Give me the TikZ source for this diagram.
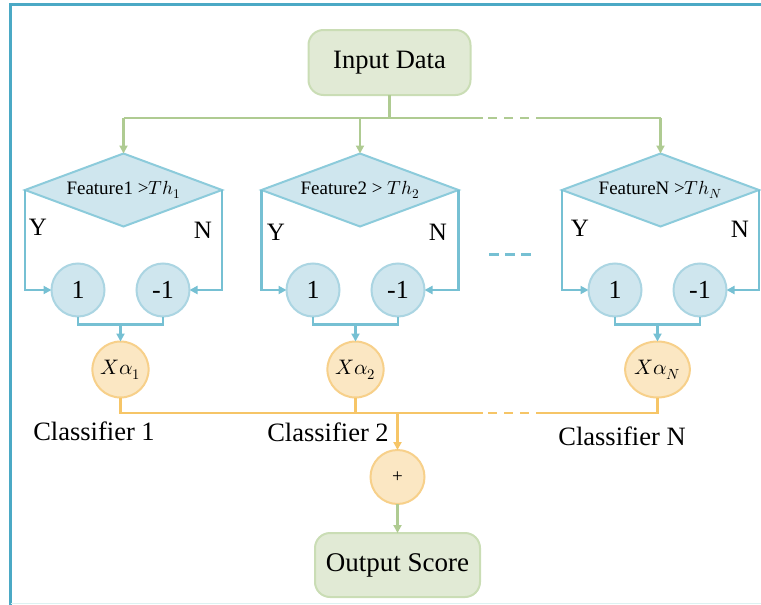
\documentclass[tikz,border=0pt]{standalone}
\usepackage{fontspec}
\usepackage{unicode-math}
\setmainfont{Liberation Serif}
\usetikzlibrary{shapes.geometric,arrows.meta}

% colour scheme
\definecolor{framec}{HTML}{4BA9C5}
\definecolor{gline}{HTML}{AFCB92}
\definecolor{gfill}{HTML}{E1EAD5}
\definecolor{gedge}{HTML}{CADDB5}
\definecolor{bline}{HTML}{76C0D3}
\definecolor{bfill}{HTML}{CFE6EE}
\definecolor{bedge}{HTML}{8CCBDB}
\definecolor{cedge}{HTML}{ABD5E2}
\definecolor{oline}{HTML}{F6C567}
\definecolor{ofill}{HTML}{FBE7C3}
\definecolor{oedge}{HTML}{F7D08A}
\definecolor{footc}{HTML}{DDF2F2}

\newcommand\sz[1]{\fontsize{#1}{#1}\selectfont}

\begin{document}
\begin{tikzpicture}[x=1pt,y=-1pt,
  tip/.style={-{Triangle[length=8pt,width=8pt]}},
  wire/.style={line width=2.4pt},
  gwire/.style={wire,draw=gline},
  bwire/.style={wire,draw=bline},
  owire/.style={wire,draw=oline},
  garrow/.style={gwire,tip,color=gline},
  barrow/.style={bwire,tip,color=bline},
  oarrow/.style={owire,tip,color=oline},
  gbox/.style={draw=gedge,fill=gfill,line width=2pt,rounded corners=15pt,
    outer sep=0pt,inner sep=0pt},
  dia/.style={diamond,draw=bedge,fill=bfill,line width=2pt,shape aspect=2.7,
    minimum width=197pt,minimum height=73pt,inner sep=0pt,outer sep=0pt},
  bcirc/.style={circle,draw=cedge,fill=bfill,line width=2pt,minimum size=53pt,
    inner sep=0pt,outer sep=0pt,font=\sz{26}},
  ocirc/.style={ellipse,draw=oedge,fill=ofill,line width=2pt,minimum width=55pt,
    minimum height=56pt,inner sep=0pt,outer sep=0pt,font=\sz{21}},
  lbl/.style={inner sep=0pt,font=\sz{25}},
  clbl/.style={inner sep=0pt,font=\sz{26.5}}
]
\useasboundingbox (0,0) rectangle (761,605);

% outer frame
\draw[framec,line width=2.6pt] (761,4.5) -- (10.5,4.5) -- (10.5,605);
\draw[footc,line width=1.5pt] (10.5,603.7) -- (761,603.7);

% input and output boxes
\node[gbox,minimum width=162pt,minimum height=65pt] (in) at (389.5,62.5) {\sz{26.5}Input Data};
\node[gbox,minimum width=165pt,minimum height=64pt] (out) at (397.5,565) {\sz{27}Output Score};

% decision diamonds
\node[dia] (d1) at (123.5,190) {\sz{19}Feature1 >$Th_1$};
\node[dia] (d2) at (360,190) {\sz{19}Feature2 > $Th_2$};
\node[dia] (dN) at (660.5,190) {\sz{19}FeatureN >$Th_N$};

% outcome circles
\node[bcirc] (c11) at (78,290) {1};
\node[bcirc] (c12) at (163,290) {-1};
\node[bcirc] (c21) at (313,290) {1};
\node[bcirc] (c22) at (398,290) {-1};
\node[bcirc] (cN1) at (615,290) {1};
\node[bcirc] (cN2) at (700,290) {-1};

% weighting nodes
\node[ocirc] (x1) at (120.5,369.5) {$X\alpha_1$};
\node[ocirc] (x2) at (355.5,369.5) {$X\alpha_2$};
\node[ocirc] (xN) at (657.5,369.5) {$X\alpha_N$};

% summation node
\node[ocirc,minimum width=54pt,minimum height=54pt,font=\sz{19}] (plus) at (397.5,477) {+};

% branch labels
\node[lbl] (y1) at (38,227) {Y};
\node[lbl] (n1) at (203,230) {N};
\node[lbl] (y2) at (276,232) {Y};
\node[lbl] (n2) at (438,232) {N};
\node[lbl] (yN) at (580,228) {Y};
\node[lbl] (nN) at (740,229) {N};

% classifier labels
\node[clbl] (l1) at (94,431) {Classifier 1};
\node[clbl] (l2) at (328,432) {Classifier 2};
\node[clbl] (lN) at (622,436) {Classifier N};

% bus levels
\coordinate (gbus) at (0,118);
\coordinate (obus) at (0,413);
\coordinate (gdl) at (483,118);
\coordinate (gdr) at (536,118);
\coordinate (gda) at (488,118);
\coordinate (gdb) at (530,118);
\coordinate (odl) at (483,413);
\coordinate (odr) at (536,413);
\coordinate (oda) at (488,413);
\coordinate (odb) at (530,413);
\coordinate (bda) at (489,254.5);
\coordinate (bdb) at (531,254.5);

% input distribution
\draw[gwire] (in.south) -- (in.south |- gbus);
\draw[gwire] (d1.north |- gbus) -- (gdl);
\draw[gwire,dash pattern=on 9pt off 7pt] (gda) -- (gdb);
\draw[gwire] (gdr) -- (dN.north |- gbus);
\draw[garrow] (d1.north |- gbus) -- (d1.north);
\draw[garrow] (d2.north |- gbus) -- (d2.north);
\draw[garrow] (dN.north |- gbus) -- (dN.north);

% decision branches
\draw[barrow] (d1.west) |- (c11.west);
\draw[barrow] (d1.east) |- (c12.east);
\draw[barrow] (d2.west) |- (c21.west);
\draw[barrow] (d2.east) |- (c22.east);
\draw[barrow] (dN.west) |- (cN1.west);
\draw[barrow] (dN.east) |- (cN2.east);
\draw[bwire,dash pattern=on 10pt off 6pt] (bda) -- (bdb);

% merge outcomes into weights
\draw[bwire] (c11.south) -- ++(0,8) -| (c12.south);
\draw[bwire] (c21.south) -- ++(0,8) -| (c22.south);
\draw[bwire] (cN1.south) -- ++(0,8) -| (cN2.south);
\draw[barrow] ([yshift=-8pt]c11.south -| x1.north) -- (x1.north);
\draw[barrow] ([yshift=-8pt]c21.south -| x2.north) -- (x2.north);
\draw[barrow] ([yshift=-8pt]cN1.south -| xN.north) -- (xN.north);

% weighted sum
\draw[owire] (x1.south) |- (odl);
\draw[owire] (x2.south) -- (x2.south |- obus);
\draw[owire,dash pattern=on 9pt off 7pt] (oda) -- (odb);
\draw[owire] (odr) -| (xN.south);
\draw[oarrow] (plus.north |- obus) -- (plus.north);
\draw[garrow] (plus.south) -- (out.north);
\end{tikzpicture}
\end{document}
